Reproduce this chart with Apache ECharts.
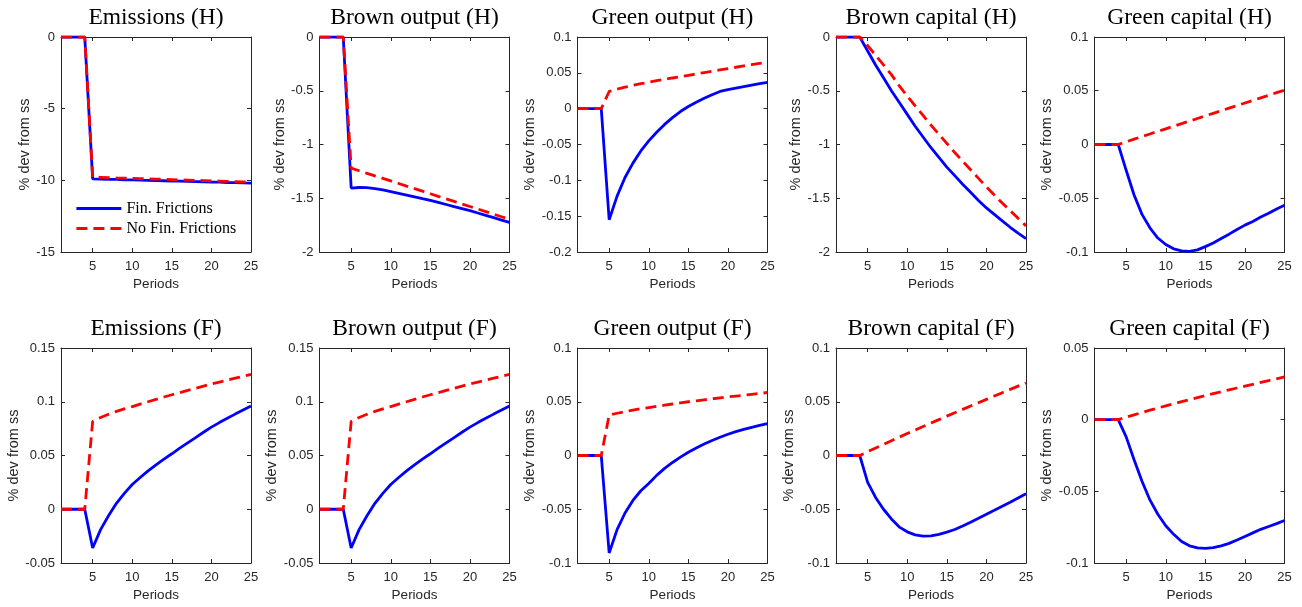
<!DOCTYPE html>
<html><head><meta charset="utf-8">
<script src="https://cdn.jsdelivr.net/npm/echarts@6/dist/echarts.min.js"></script>
<style>html,body{margin:0;padding:0;background:#fff}#c{width:1302px;height:607px}</style>
</head><body><div id="c"></div>
<script>
// ---------------- data ----------------
const periods = [1,2,3,4,5,6,7,8,9,10,11,12,13,14,15,16,17,18,19,20,21,22,23,24,25];
const xTicks = [5,10,15,20,25];
const seriesNames = ['Fin. Frictions', 'No Fin. Frictions'];
const titles = ['Emissions (H)','Brown output (H)','Green output (H)','Brown capital (H)','Green capital (H)',
                'Emissions (F)','Brown output (F)','Green output (F)','Brown capital (F)','Green capital (F)'];
const yMins  = [-15, -2, -0.2, -2, -0.1,   -0.05, -0.05, -0.1, -0.1, -0.1];
const yMaxs  = [0, 0, 0.1, 0, 0.1,          0.15, 0.15, 0.1, 0.1, 0.05];
const ySteps = [5, 0.5, 0.05, 0.5, 0.05,    0.05, 0.05, 0.05, 0.05, 0.05];

// Home
const emisH_fin   = [0,0,0,0,-9.90,-9.91,-9.93,-9.94,-9.96,-9.97,-9.99,-10.00,-10.02,-10.03,-10.05,-10.06,-10.07,-10.09,-10.10,-10.12,-10.13,-10.15,-10.16,-10.18,-10.19];
const emisH_nofin = [0,0,0,0,-9.77,-9.79,-9.81,-9.83,-9.84,-9.86,-9.88,-9.90,-9.91,-9.93,-9.95,-9.97,-9.98,-10.00,-10.02,-10.04,-10.05,-10.07,-10.09,-10.11,-10.12];
const boutH_fin   = [0,0,0,0,-1.405,-1.400,-1.402,-1.410,-1.423,-1.438,-1.454,-1.470,-1.487,-1.504,-1.520,-1.539,-1.558,-1.577,-1.596,-1.615,-1.637,-1.659,-1.681,-1.703,-1.725];
const boutH_nofin = [0,0,0,0,-1.220,-1.244,-1.268,-1.292,-1.315,-1.339,-1.363,-1.387,-1.410,-1.434,-1.458,-1.482,-1.505,-1.529,-1.553,-1.577,-1.600,-1.624,-1.648,-1.672,-1.695];
const goutH_fin   = [0,0,0,0,-0.155,-0.122,-0.096,-0.076,-0.059,-0.045,-0.033,-0.022,-0.0125,-0.004,0.003,0.009,0.0145,0.0195,0.024,0.0265,0.0287,0.0308,0.0329,0.0349,0.0368];
const goutH_nofin = [0,0,0,0,0.024,0.0272,0.030,0.0325,0.0348,0.037,0.039,0.0409,0.0428,0.0446,0.0465,0.0484,0.0503,0.0522,0.0541,0.056,0.0578,0.0596,0.0614,0.0632,0.065];
const bcapH_fin   = [0,0,0,0,-0.13,-0.26,-0.38,-0.50,-0.61,-0.72,-0.83,-0.93,-1.03,-1.12,-1.21,-1.29,-1.37,-1.445,-1.52,-1.59,-1.65,-1.71,-1.77,-1.825,-1.875];
const bcapH_nofin = [0,0,0,0,-0.08,-0.17,-0.26,-0.35,-0.455,-0.55,-0.64,-0.73,-0.82,-0.905,-0.99,-1.075,-1.155,-1.235,-1.315,-1.395,-1.47,-1.545,-1.615,-1.687,-1.757];
const gcapH_fin   = [0,0,0,0,-0.024,-0.047,-0.065,-0.0775,-0.087,-0.093,-0.097,-0.099,-0.0994,-0.098,-0.095,-0.0916,-0.0875,-0.0834,-0.079,-0.075,-0.0716,-0.0675,-0.064,-0.060,-0.0566];
const gcapH_nofin = [0,0,0,0,0.0025,0.0050,0.0074,0.0098,0.0122,0.0146,0.0170,0.0194,0.0218,0.0242,0.0266,0.0290,0.0314,0.0338,0.0362,0.0386,0.0410,0.0434,0.0458,0.0482,0.0506];
// Foreign
const emisF_fin   = [0,0,0,0,-0.036,-0.019,-0.006,0.0055,0.0148,0.023,0.0295,0.0357,0.0413,0.0466,0.0516,0.0568,0.0618,0.0667,0.0716,0.0764,0.0806,0.0846,0.0885,0.0923,0.096];
const emisF_nofin = [0,0,0,0,0.0817,0.0853,0.0883,0.091,0.0934,0.0955,0.0978,0.100,0.1022,0.1044,0.1065,0.1085,0.1105,0.1125,0.1145,0.1165,0.1183,0.1201,0.1219,0.1237,0.1255];
const boutF_fin   = [0,0,0,0,-0.036,-0.019,-0.006,0.0055,0.0148,0.023,0.0295,0.0357,0.0413,0.0466,0.0516,0.0568,0.0618,0.0667,0.0716,0.0764,0.0806,0.0846,0.0885,0.0923,0.096];
const boutF_nofin = [0,0,0,0,0.0817,0.0853,0.0883,0.091,0.0934,0.0955,0.0978,0.100,0.1022,0.1044,0.1065,0.1085,0.1105,0.1125,0.1145,0.1165,0.1183,0.1201,0.1219,0.1237,0.1255];
const goutF_fin   = [0,0,0,0,-0.0907,-0.069,-0.0535,-0.0418,-0.0328,-0.026,-0.0185,-0.012,-0.0065,-0.0015,0.003,0.007,0.0107,0.014,0.017,0.0198,0.0222,0.0243,0.0262,0.028,0.0297];
const goutF_nofin = [0,0,0,0,0.0377,0.0393,0.0409,0.0423,0.0435,0.0446,0.0457,0.0468,0.0479,0.049,0.050,0.0509,0.0518,0.0527,0.0536,0.0545,0.0553,0.0561,0.0569,0.0577,0.0586];
const bcapF_fin   = [0,0,0,0,-0.025,-0.039,-0.050,-0.059,-0.0666,-0.071,-0.0738,-0.075,-0.0747,-0.0734,-0.0713,-0.0688,-0.0655,-0.062,-0.0584,-0.0547,-0.051,-0.0472,-0.0434,-0.0395,-0.0356];
const bcapF_nofin = [0,0,0,0,0.0036,0.007,0.0104,0.0138,0.0171,0.0204,0.0237,0.027,0.0302,0.0334,0.0366,0.0398,0.0429,0.046,0.0491,0.0522,0.0553,0.0584,0.0615,0.0645,0.0675];
const gcapF_fin   = [0,0,0,0,-0.012,-0.028,-0.043,-0.056,-0.066,-0.074,-0.080,-0.085,-0.088,-0.0895,-0.0898,-0.0893,-0.088,-0.0863,-0.084,-0.0815,-0.079,-0.0765,-0.0745,-0.0725,-0.0703];
const gcapF_nofin = [0,0,0,0,0.0017,0.0034,0.005,0.0066,0.0081,0.0096,0.0111,0.0126,0.014,0.0154,0.0168,0.0182,0.0195,0.0208,0.0221,0.0234,0.0247,0.026,0.0273,0.0285,0.0298];

const panelFin   = [emisH_fin, boutH_fin, goutH_fin, bcapH_fin, gcapH_fin, emisF_fin, boutF_fin, goutF_fin, bcapF_fin, gcapF_fin];
const panelNofin = [emisH_nofin, boutH_nofin, goutH_nofin, bcapH_nofin, gcapH_nofin, emisF_nofin, boutF_nofin, goutF_nofin, bcapF_nofin, gcapF_nofin];

// ---------------- layout ----------------
const LEFTS = [61, 319.5, 577.5, 836, 1094.5];
const TOPS = [37, 348];
const W = 190, H = 215;
const AX = '#262626';
const SANS = 'Liberation Sans';
const SERIF = 'Liberation Serif';

const ctx = document.createElement('canvas').getContext('2d');
ctx.font = '13px "' + SANS + '"';
function fmt(v){ return String(+v.toFixed(10)); }
function maxLabelW(min, max, step){
  let m = 0;
  const n = Math.round((max - min) / step);
  for (let i = 0; i <= n; i++) m = Math.max(m, ctx.measureText(fmt(min + i * step)).width);
  return m;
}

const grid = [], xAxis = [], yAxis = [], series = [], title = [];
for (let p = 0; p < 10; p++) {
  const col = p % 5, row = Math.floor(p / 5);
  const left = LEFTS[col], top = TOPS[row];
  grid.push({left: left, top: top, width: W, height: H, containLabel: false});
  title.push({
    text: titles[p], left: left + W / 2, top: top - 30.8, textAlign: 'center', padding: 0,
    textStyle: {fontFamily: SERIF, fontSize: 23.5, fontWeight: 'normal', color: '#000', lineHeight: 23.5}
  });
  const lineCommon = {show: true, onZero: false, lineStyle: {color: AX, width: 1}};
  xAxis.push({
    type: 'value', gridIndex: p, min: 1, max: 25, position: 'bottom',
    axisLine: lineCommon, splitLine: {show: false},
    axisTick: {show: true, inside: true, length: 4, lineStyle: {color: AX}, customValues: xTicks},
    axisLabel: {show: true, margin: 8, color: AX, fontFamily: SANS, fontSize: 13, customValues: xTicks},
    name: 'Periods', nameLocation: 'middle', nameGap: 25.5,
    nameTextStyle: {fontFamily: SANS, fontSize: 13.5, color: AX}
  });
  xAxis.push({
    type: 'value', gridIndex: p, min: 1, max: 25, position: 'top',
    axisLine: lineCommon, splitLine: {show: false},
    axisTick: {show: true, inside: true, length: 4, lineStyle: {color: AX}, customValues: xTicks},
    axisLabel: {show: false}
  });
  const lw = maxLabelW(yMins[p], yMaxs[p], ySteps[p]);
  yAxis.push({
    type: 'value', gridIndex: p, min: yMins[p], max: yMaxs[p], interval: ySteps[p], position: 'left',
    axisLine: lineCommon, splitLine: {show: false},
    axisTick: {show: true, inside: true, length: 4, lineStyle: {color: AX}},
    axisLabel: {show: true, margin: 6, color: AX, fontFamily: SANS, fontSize: 13},
    name: '% dev from ss', nameLocation: 'middle', nameGap: lw + 10,
    nameTextStyle: {fontFamily: SANS, fontSize: 14.5, color: AX}
  });
  yAxis.push({
    type: 'value', gridIndex: p, min: yMins[p], max: yMaxs[p], interval: ySteps[p], position: 'right',
    axisLine: lineCommon, splitLine: {show: false},
    axisTick: {show: true, inside: true, length: 4, lineStyle: {color: AX}},
    axisLabel: {show: false}
  });
  const fin = panelFin[p], nofin = panelNofin[p];
  series.push({
    name: seriesNames[0], type: 'line', xAxisIndex: 2 * p, yAxisIndex: 2 * p,
    data: periods.map((t, i) => [t, fin[i]]),
    symbol: 'none', showSymbol: false, smooth: false,
    lineStyle: {color: '#0000ff', width: 2.8, type: 'solid'},
    itemStyle: {color: '#0000ff'}, z: 2
  });
  series.push({
    name: seriesNames[1], type: 'line', xAxisIndex: 2 * p, yAxisIndex: 2 * p,
    data: periods.map((t, i) => [t, nofin[i]]),
    symbol: 'none', showSymbol: false, smooth: false,
    lineStyle: {color: '#ff0000', width: 2.8, type: [11, 6]},
    itemStyle: {color: '#ff0000'}, z: 3
  });
}

const chart = echarts.init(document.getElementById('c'), null, {renderer: 'canvas'});
chart.setOption({
  backgroundColor: '#fff',
  animation: false,
  title: title,
  grid: grid,
  xAxis: xAxis,
  yAxis: yAxis,
  legend: {
    data: seriesNames, orient: 'vertical', left: 75, top: 200.5,
    itemWidth: 45, itemHeight: 16, itemGap: 4, padding: 0,
    itemStyle: {opacity: 0, borderWidth: 0},
    lineStyle: {width: 2.8},
    textStyle: {fontFamily: SERIF, fontSize: 16, color: '#000'}
  },
  series: series
});
</script>
</body></html>
